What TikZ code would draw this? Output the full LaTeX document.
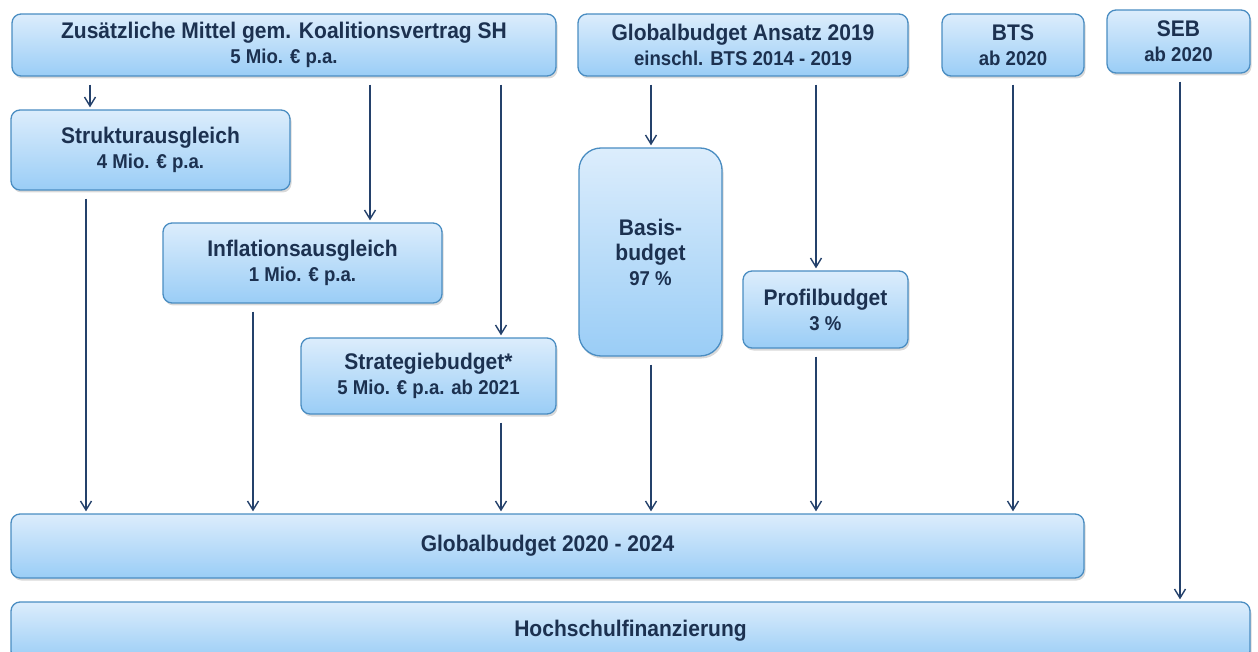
\documentclass[tikz,border=0pt]{standalone}
\usepackage{fontspec}
\setmainfont{Liberation Sans}[FakeStretch=0.93]
\usetikzlibrary{arrows.meta,shadows}
\definecolor{txt}{HTML}{1C3150}
\definecolor{ln}{HTML}{24416B}
\definecolor{bd}{HTML}{4A8DC2}
\definecolor{ftop}{HTML}{DCEDFC}
\definecolor{fbot}{HTML}{9ACDF6}
\newcommand{\lA}{\fontsize{22.6}{25}\selectfont}
\newcommand{\lB}{\fontsize{20}{25}\selectfont}
\begin{document}
\begin{tikzpicture}[x=1pt,y=-1pt,
  box/.style={draw=bd, line width=1.3pt, rounded corners=9pt,
    top color=ftop, bottom color=fbot,
    drop shadow={opacity=0.3, shadow xshift=1.5pt, shadow yshift=-2.5pt},
    text=txt, font=\bfseries\lA, align=center, inner sep=0pt},
  arr/.style={draw=ln, line width=1.4pt, -{Straight Barb[length=9pt,width=11pt]},
    shorten <=8pt, shorten >=2pt}]
\useasboundingbox (0,0) rectangle (1258,652);

\node[box, minimum width=544pt, minimum height=62pt] (top1) at (284,45)
  {Zusätzliche Mittel gem. Koalitionsvertrag SH\\ \lB 5 Mio. € p.a.};
\node[box, minimum width=330pt, minimum height=62pt] (top2) at (743,45)
  {Globalbudget Ansatz 2019\\ \lB einschl. BTS 2014 - 2019};
\node[box, minimum width=142pt, minimum height=62pt] (bts) at (1013,45)
  {BTS\\ \lB ab 2020};
\node[box, minimum width=143pt, minimum height=63pt] (seb) at (1178.5,41.5)
  {SEB\\ \lB ab 2020};
\node[box, minimum width=279pt, minimum height=80pt] (stru) at (150.5,150)
  {Strukturausgleich\\ \lB 4 Mio. € p.a.};
\node[box, minimum width=279pt, minimum height=80pt] (infl) at (302.5,263)
  {Inflationsausgleich\\ \lB 1 Mio. € p.a.};
\node[box, minimum width=255pt, minimum height=76pt] (strat) at (428.5,376)
  {Strategiebudget*\\ \lB 5 Mio. € p.a. ab 2021};
\node[box, rounded corners=22pt, minimum width=143pt, minimum height=208pt] (basis) at (650.5,252)
  {Basis-\\budget\\ \lB 97 \%};
\node[box, minimum width=165pt, minimum height=77pt] (prof) at (825.5,309.5)
  {Profilbudget\\ \lB 3 \%};
\node[box, minimum width=1073pt, minimum height=64pt] (glob) at (547.5,546)
  {Globalbudget 2020 - 2024};
\node[box, minimum width=1239pt, minimum height=58pt] (hoch) at (630.5,631)
  {Hochschulfinanzierung};

\coordinate (a90) at (90,0);
\coordinate (a370) at (370,0);
\coordinate (a501) at (501,0);
\coordinate (a651) at (651,0);
\coordinate (a816) at (816,0);
\coordinate (a86) at (86,0);
\coordinate (a253) at (253,0);
\coordinate (a1013) at (1013,0);
\coordinate (a1180) at (1180,0);

\draw[arr] (top1.south -| a90) -- (stru.north -| a90);
\draw[arr] (top1.south -| a370) -- (infl.north -| a370);
\draw[arr] (top1.south -| a501) -- (strat.north -| a501);
\draw[arr] (top2.south -| a651) -- (basis.north -| a651);
\draw[arr] (top2.south -| a816) -- (prof.north -| a816);
\draw[arr] (stru.south -| a86) -- (glob.north -| a86);
\draw[arr] (infl.south -| a253) -- (glob.north -| a253);
\draw[arr] (strat.south -| a501) -- (glob.north -| a501);
\draw[arr] (basis.south -| a651) -- (glob.north -| a651);
\draw[arr] (prof.south -| a816) -- (glob.north -| a816);
\draw[arr] (bts.south -| a1013) -- (glob.north -| a1013);
\draw[arr] (seb.south -| a1180) -- (hoch.north -| a1180);
\end{tikzpicture}
\end{document}
